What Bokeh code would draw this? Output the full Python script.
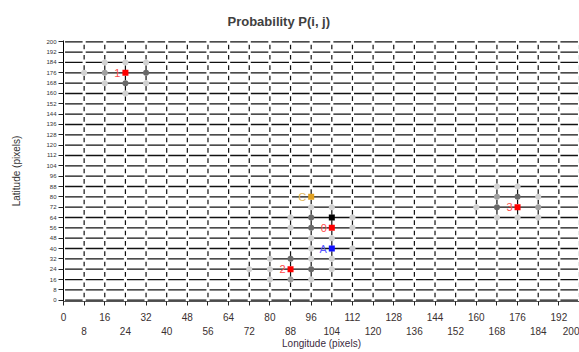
from bokeh.plotting import figure
from bokeh.models import LinearAxis, FixedTicker, Range1d, ColumnDataSource, Title
from bokeh.core.properties import value
from bokeh.embed import file_html
from bokeh.resources import INLINE

# ---- ticks ----
X_TICKS = list(range(0, 201, 8))
Y_TICKS = list(range(0, 201, 8))
X_ROW1 = [t for t in X_TICKS if t % 16 == 0]
X_ROW2 = [t for t in X_TICKS if t % 16 == 8]

# ---- labelled points ----
PT_X = [104, 24, 88, 176, 96, 104, 104]
PT_Y = [56, 176, 24, 72, 80, 40, 64]
PT_LABEL = ["0", "1", "2", "3", "C", "A", ""]
PT_COLOR = ["#ff0000", "#ff0000", "#ff0000", "#ff0000", "#e0a020", "#1010ff", "#000000"]
LABEL_COLOR = ["#ff4c4c", "#ff4c4c", "#ff4c4c", "#ff4c4c", "#e2b860", "#5a5aff", "#000000"]

# ---- probability nodes (three shade levels) ----
DARK_X = [96, 96, 88, 96, 32, 24, 168, 176]
DARK_Y = [64, 56, 32, 24, 176, 168, 72, 80]
MID_X = [16, 88, 184, 168]
MID_Y = [176, 16, 72, 80]
LIGHT_X = [8, 16, 24, 32, 16, 32, 24,
           96, 104, 88, 112, 88, 112, 96, 104, 96, 112, 80, 96, 104, 72, 80, 104, 80, 96,
           168, 176, 160, 184, 168, 176, 184]
LIGHT_Y = [176, 184, 184, 184, 168, 168, 160,
           72, 72, 64, 64, 56, 56, 48, 48, 40, 40, 32, 32, 32, 24, 24, 24, 16, 16,
           88, 88, 72, 80, 64, 64, 64]

FONT = "Liberation Sans"

p = figure(width=579, height=351, x_range=Range1d(0, 200), y_range=Range1d(-1, 201),
           output_backend="svg", toolbar_location=None,
           min_border_left=63, min_border_right=0, min_border_top=0, min_border_bottom=0,
           x_axis_location=None, y_axis_location=None)
p.outline_line_color = None
p.grid.visible = False
p.background_fill_color = "white"

# lattice: horizontal edges
hx0, hx1, hy = [], [], []
for y in Y_TICKS:
    for a, b in zip(X_TICKS[:-1], X_TICKS[1:]):
        hx0.append(a + 0.6)
        hx1.append(b - 0.6)
        hy.append(y)
p.segment(x0=hx0, y0=hy, x1=hx1, y1=hy, line_color="#111111", line_width=1.3)

# lattice: vertical dashes
vx, vy0, vy1 = [], [], []
for x in X_TICKS[1:]:
    for a, b in zip(Y_TICKS[:-1], Y_TICKS[1:]):
        vx.append(x)
        vy0.append(a + 2.2)
        vy1.append(b - 2.2)
p.segment(x0=vx, y0=vy0, x1=vx, y1=vy1, line_color="#111111", line_width=1.2)

p.scatter(LIGHT_X, LIGHT_Y, size=6, marker="circle", fill_color="#d2d2d2", line_color=None)
p.scatter(MID_X, MID_Y, size=6, marker="circle", fill_color="#a0a0a0", line_color=None)
p.scatter(DARK_X, DARK_Y, size=6, marker="circle", fill_color="#6a6a6a", line_color=None)

src = ColumnDataSource(dict(x=PT_X, y=PT_Y, t=PT_LABEL, c=PT_COLOR, lc=LABEL_COLOR))
p.scatter("x", "y", source=src, marker="square", size=6, fill_color="c", line_color=None)
p.text("x", "y", text="t", source=src, text_color="lc", text_align="right",
       text_baseline="middle", x_offset=-5, text_font=value(FONT), text_font_size="11px")

# y axis
yax = LinearAxis(ticker=FixedTicker(ticks=Y_TICKS), axis_label="Latitude (pixels)")
yax.major_label_text_font_size = "6px"
yax.major_label_text_font = FONT
yax.major_label_text_color = "#333333"
yax.major_tick_out = 5
yax.major_tick_in = 0
yax.minor_tick_out = 0
yax.minor_tick_in = 0
yax.axis_line_color = "black"
yax.major_tick_line_color = "#222222"
yax.major_label_standoff = 2
yax.axis_label_text_font = FONT
yax.axis_label_text_font_size = "10px"
yax.axis_label_text_font_style = "normal"
yax.axis_label_text_color = "#333333"
yax.axis_label_standoff = 21
p.add_layout(yax, "left")

# x axis row 1
xax = LinearAxis(ticker=FixedTicker(ticks=X_TICKS),
                 major_label_overrides={t: "" for t in X_ROW2})
xax.major_label_text_font_size = "10px"
xax.major_label_text_font = FONT
xax.major_label_text_color = "#3a3030"
xax.major_tick_out = 4
xax.major_tick_in = 0
xax.minor_tick_out = 0
xax.minor_tick_in = 0
xax.axis_line_color = "#555555"
xax.major_tick_line_color = "#222222"
xax.major_label_standoff = 7
p.add_layout(xax, "below")

# x axis row 2
xax2 = LinearAxis(ticker=FixedTicker(ticks=X_ROW2), axis_label="Longitude (pixels)")
xax2.major_label_text_font_size = "10px"
xax2.major_label_text_font = FONT
xax2.major_label_text_color = "#3a3030"
xax2.major_tick_out = 0
xax2.major_tick_in = 0
xax2.minor_tick_out = 0
xax2.minor_tick_in = 0
xax2.axis_line_color = None
xax2.major_tick_line_color = None
xax2.major_label_standoff = 3
xax2.axis_label_text_font = FONT
xax2.axis_label_text_font_size = "10px"
xax2.axis_label_text_font_style = "normal"
xax2.axis_label_text_color = "#3a2a40"
xax2.axis_label_standoff = 0
p.add_layout(xax2, "below")

p.add_layout(Title(text="Probability P(i, j)", align="left", offset=164,
                   text_font=FONT, text_font_size="13px", text_font_style="bold",
                   text_color="#404040", standoff=23), "above")

open("out.html", "w").write(file_html(p, INLINE))
